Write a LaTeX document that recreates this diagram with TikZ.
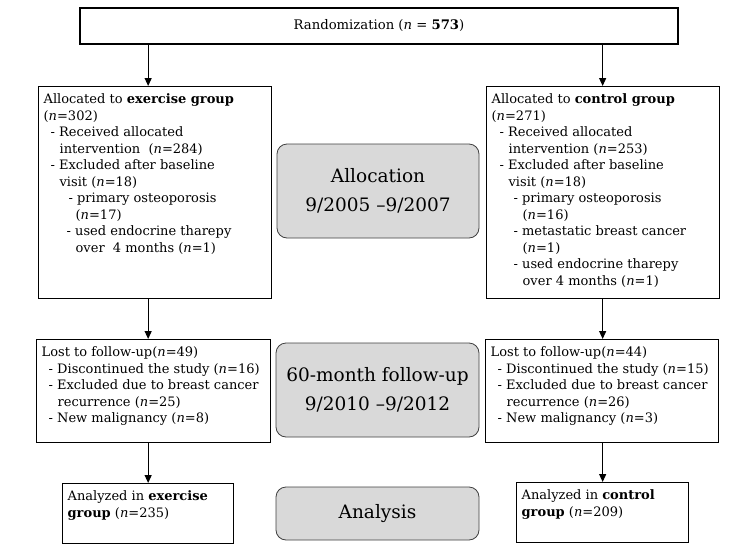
\documentclass[tikz,border=0pt]{standalone}
\usepackage{fontspec}
\setmainfont{DejaVu Serif}
\usetikzlibrary{arrows.meta, positioning}

\begin{document}
\begin{tikzpicture}[x=1pt, y=-1pt,
        flowbox/.style={rectangle, draw=black, line width=1.3pt, fill=white, anchor=north west, inner xsep=5pt, inner ysep=7pt, font=\fontsize{13}{16.5}\selectfont},
        phasebox/.style={rectangle, rounded corners=10pt, draw=black!75, line width=0.8pt, fill=black!15, align=center, font=\fontsize{18.5}{29}\selectfont},
        flowarrow/.style={-{Triangle[length=8pt, width=7pt]}, line width=1.1pt}
    ]
        \useasboundingbox (0,0) rectangle (756,552);

        \node[draw=black, line width=1.3pt, minimum width=598pt, minimum height=36pt, font=\fontsize{13.2}{16}\selectfont] (rand) at (379,26) {Randomization (\textit{n} = \textbf{573})};

        % allocation
        \node[flowbox] (exgroup) at (38,86) {\parbox[t][198pt][t]{223pt}{\raggedright
            Allocated to \textbf{exercise group}\\
            (\textit{n}=302)\\
            \hspace*{7pt}- Received allocated\\
            \hspace*{16pt}intervention~~(\textit{n}=284)\\
            \hspace*{7pt}- Excluded after baseline\\
            \hspace*{16pt}visit (\textit{n}=18)\\
            \hspace*{25pt}- primary osteoporosis\\
            \hspace*{32pt}(\textit{n}=17)\\
            \hspace*{23pt}- used endocrine tharepy\\
            \hspace*{32pt}over~~4 months (\textit{n}=1)}};
        \node[flowbox] (ctlgroup) at (486,86) {\parbox[t][198pt][t]{223pt}{\raggedright
            Allocated to \textbf{control group}\\
            (\textit{n}=271)\\
            \hspace*{8pt}- Received allocated\\
            \hspace*{17pt}intervention (\textit{n}=253)\\
            \hspace*{8pt}- Excluded after baseline\\
            \hspace*{17pt}visit (\textit{n}=18)\\
            \hspace*{22pt}- primary osteoporosis\\
            \hspace*{31pt}(\textit{n}=16)\\
            \hspace*{22pt}- metastatic breast cancer\\
            \hspace*{31pt}(\textit{n}=1)\\
            \hspace*{22pt}- used endocrine tharepy\\
            \hspace*{31pt}over 4 months (\textit{n}=1)}};
        \node[phasebox, minimum width=202pt, minimum height=94pt] (alloc) at (378,191) {Allocation\\9/2005 --9/2007};

        % follow-up
        \node[flowbox] (exlost) at (36,339) {\parbox[t][89pt][t]{224pt}{\raggedright
            Lost to follow-up(\textit{n}=49)\\
            \hspace*{7pt}- Discontinued the study (\textit{n}=16)\\
            \hspace*{7pt}- Excluded due to breast cancer\\
            \hspace*{16pt}recurrence (\textit{n}=25)\\
            \hspace*{7pt}- New malignancy (\textit{n}=8)}};
        \node[flowbox] (ctllost) at (485,339) {\parbox[t][89pt][t]{223pt}{\raggedright
            Lost to follow-up(\textit{n}=44)\\
            \hspace*{7pt}- Discontinued the study (\textit{n}=15)\\
            \hspace*{7pt}- Excluded due to breast cancer\\
            \hspace*{16pt}recurrence (\textit{n}=26)\\
            \hspace*{7pt}- New malignancy (\textit{n}=3)}};
        \node[phasebox, minimum width=203pt, minimum height=94pt] (follow) at (377.5,390) {60-month follow-up\\9/2010 --9/2012};

        % analysis
        \node[flowbox] (exan) at (62,483) {\parbox[t][46pt][t]{161pt}{\raggedright
            Analyzed in \textbf{exercise}\\
            \textbf{group} (\textit{n}=235)}};
        \node[flowbox] (ctlan) at (516,482) {\parbox[t][46pt][t]{162pt}{\raggedright
            Analyzed in \textbf{control}\\
            \textbf{group} (\textit{n}=209)}};
        \node[phasebox, minimum width=203pt, minimum height=53pt] (analysis) at (377.5,513.5) {Analysis};

        \draw[flowarrow] (rand.south -| exan.north) -- (exgroup.north -| exan.north);
        \draw[flowarrow] (rand.south -| ctlan.north) -- (ctlgroup.north -| ctlan.north);
        \draw[flowarrow] (exgroup.south -| exan.north) -- (exlost.north -| exan.north);
        \draw[flowarrow] (ctlgroup.south -| ctlan.north) -- (ctllost.north -| ctlan.north);
        \draw[flowarrow] (exlost.south -| exan.north) -- (exan.north);
        \draw[flowarrow] (ctllost.south -| ctlan.north) -- (ctlan.north);
    \end{tikzpicture}
\end{document}
